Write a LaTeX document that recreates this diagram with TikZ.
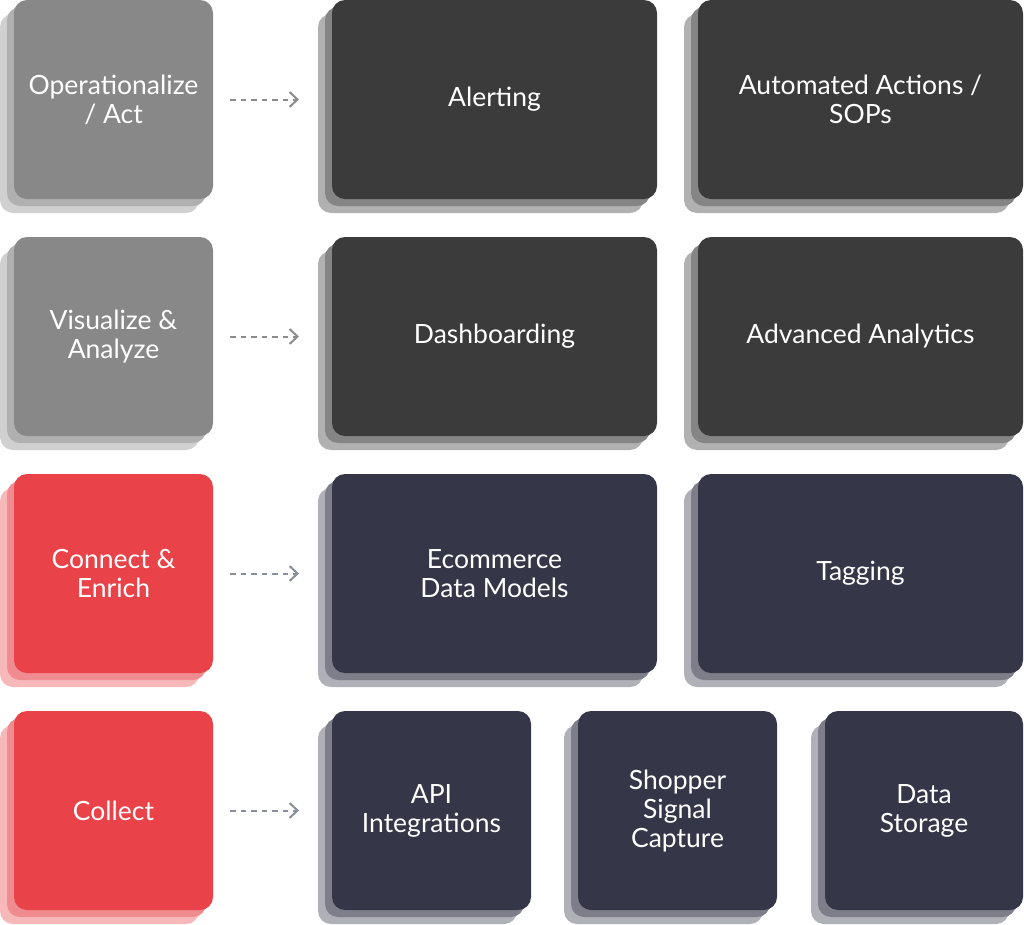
\documentclass[tikz,border=0pt]{standalone}
\usepackage{fontspec}
\setmainfont{Lato}
\usetikzlibrary{arrows.meta}
\definecolor{grayA}{HTML}{888888}
\definecolor{grayB}{HTML}{B0B0B0}
\definecolor{grayC}{HTML}{D0D0D0}
\definecolor{redA}{HTML}{E94248}
\definecolor{redB}{HTML}{F08B8F}
\definecolor{redC}{HTML}{F7B8BA}
\definecolor{darkA}{HTML}{3B3B3B}
\definecolor{darkB}{HTML}{858585}
\definecolor{darkC}{HTML}{B1B1B1}
\definecolor{navyA}{HTML}{353748}
\definecolor{navyB}{HTML}{7D7E8A}
\definecolor{navyC}{HTML}{AFB0B8}
\definecolor{arrgray}{HTML}{8C8C8C}
\definecolor{arrnavy}{HTML}{8A8D9C}
\tikzset{
  tilebox/.style={rounded corners=13pt, inner sep=0pt, outer sep=0pt, text=white,
    align=center, font=\fontsize{26.5}{29}\selectfont},
  flowarrow/.style={dash pattern=on 5.5pt off 5pt, line width=2pt,
    -{Straight Barb[length=8pt,width=15pt,line width=2pt]},
    shorten <=17pt, shorten >=33pt}
}
\newcommand{\tile}[7]{%
  \fill[#2C, rounded corners=13pt] (#3-14,#4+14) rectangle (#5-14,#6+14);
  \fill[#2B, rounded corners=13pt] (#3-7,#4+7) rectangle (#5-7,#6+7);
  \node[tilebox, fill=#2A, minimum width={#5-#3}, minimum height={#6-#4}]
    (#1) at ({(#3+#5)/2},{(#4+#6)/2}) {#7};
}
\begin{document}
\begin{tikzpicture}[x=1pt,y=-1pt]
\useasboundingbox (0,0) rectangle (1024,924);
% row 1
\tile{op}{gray}{14}{0}{213}{199}{Operationalize\\/ Act}
\tile{alert}{dark}{332}{0}{657}{199}{Alerting}
\tile{auto}{dark}{698}{0}{1023}{199}{Automated Actions /\\SOPs}
% row 2
\tile{vis}{gray}{14}{237}{213}{436}{Visualize \&\\Analyze}
\tile{dash}{dark}{332}{237}{657}{436}{Dashboarding}
\tile{adv}{dark}{698}{237}{1023}{436}{Advanced Analytics}
% row 3
\tile{con}{red}{14}{474}{213}{673}{Connect \&\\Enrich}
\tile{ecom}{navy}{332}{474}{657}{673}{Ecommerce\\Data Models}
\tile{tag}{navy}{698}{474}{1023}{673}{Tagging}
% row 4
\tile{col}{red}{14}{711}{213}{910}{Collect}
\tile{api}{navy}{332}{711}{531}{910}{API\\Integrations}
\tile{shop}{navy}{578}{711}{777}{910}{Shopper\\Signal\\Capture}
\tile{store}{navy}{825}{711}{1023}{910}{Data\\Storage}
% arrows
\draw[flowarrow, arrgray] (op.east) -- (alert.west);
\draw[flowarrow, arrgray] (vis.east) -- (dash.west);
\draw[flowarrow, arrnavy] (con.east) -- (ecom.west);
\draw[flowarrow, arrnavy] (col.east) -- (api.west);
\end{tikzpicture}
\end{document}
